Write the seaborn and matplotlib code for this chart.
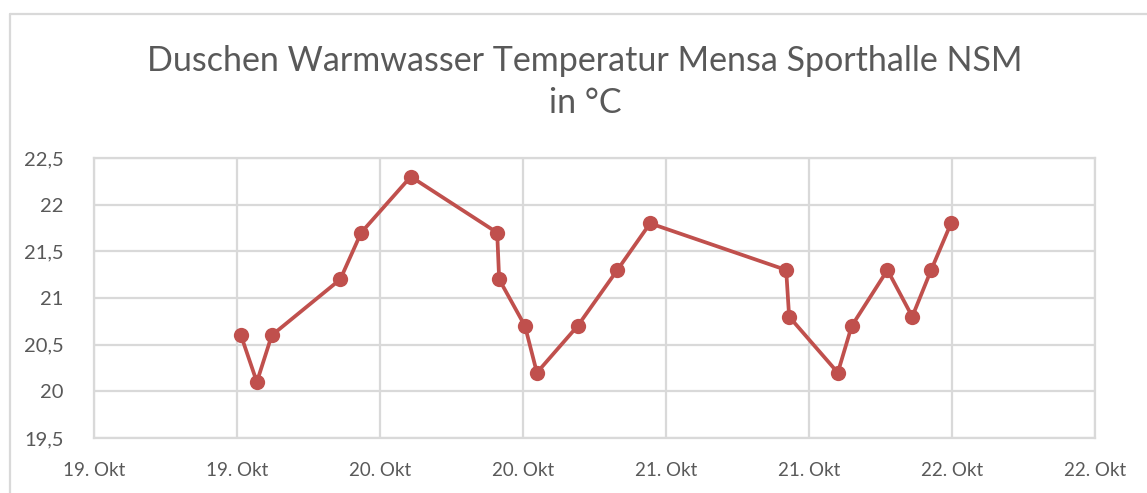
import matplotlib
matplotlib.use("Agg")
import matplotlib.pyplot as plt
import matplotlib.dates as mdates
from matplotlib.lines import Line2D
import pandas as pd
import seaborn as sns

# Measurement times and hot-water temperatures (°C)
times = [
    "2023-10-19 12:20", "2023-10-19 13:40", "2023-10-19 14:55", "2023-10-19 20:40",
    "2023-10-19 22:25", "2023-10-20 02:35", "2023-10-20 09:50", "2023-10-20 10:00",
    "2023-10-20 12:10", "2023-10-20 13:10", "2023-10-20 16:35", "2023-10-20 19:55",
    "2023-10-20 22:40", "2023-10-21 10:05", "2023-10-21 10:20", "2023-10-21 14:25",
    "2023-10-21 15:35", "2023-10-21 18:35", "2023-10-21 20:40", "2023-10-21 22:15",
    "2023-10-21 23:55",
]
temps = [20.6, 20.1, 20.6, 21.2, 21.7, 22.3, 21.7, 21.2, 20.7, 20.2, 20.7,
         21.3, 21.8, 21.3, 20.8, 20.2, 20.7, 21.3, 20.8, 21.3, 21.8]
y_ticks = [19.5, 20, 20.5, 21, 21.5, 22, 22.5]
title = "Duschen Warmwasser Temperatur Mensa Sporthalle NSM\nin °C"

df = pd.DataFrame({"Zeit": pd.to_datetime(times), "Temperatur": temps})

sns.set_theme(style="white")
plt.rcParams["font.family"] = ["Lato", "DejaVu Sans"]

TEXT = "#595959"
GRID = "#D9D9D9"
RED = "#C0504D"

fig = plt.figure(figsize=(11.47, 4.93), dpi=100)
ax = fig.add_axes([94 / 1147, 1 - 438 / 493, (1095 - 94) / 1147, (438 - 158) / 493])

sns.lineplot(data=df, x="Zeit", y="Temperatur", ax=ax, color=RED, linewidth=2.7,
             marker="o", markersize=11, markeredgewidth=0, sort=False, zorder=3)

ax.set_xlim(pd.Timestamp("2023-10-19 00:00"), pd.Timestamp("2023-10-22 12:00"))
ax.set_ylim(19.5, 22.5)
ax.set_yticks(y_ticks)
ax.set_yticklabels([f"{v:g}".replace(".", ",") for v in y_ticks])

ax.xaxis.set_major_locator(mdates.HourLocator(byhour=[0, 12]))
ax.xaxis.set_major_formatter(
    matplotlib.ticker.FuncFormatter(lambda v, _: f"{mdates.num2date(v).day}. Okt"))

ax.grid(True, color=GRID, linewidth=1.6)
ax.set_axisbelow(True)
for side, sp in ax.spines.items():
    sp.set_visible(True)
    sp.set_color(GRID)
    sp.set_linewidth(1.6)
ax.tick_params(axis="both", length=0, labelcolor=TEXT)
ax.tick_params(axis="x", labelsize=13.5, pad=17)
ax.tick_params(axis="y", labelsize=14.5, pad=22)
ax.set_xlabel("")
ax.set_ylabel("")

fig.text(585 / 1147, 1 - 82 / 493, title, ha="center", va="center",
         fontsize=24.5, color=TEXT, linespacing=1.38)

# chart frame
fig.add_artist(Line2D([9.5 / 1147, 1.0], [1 - 13.5 / 493] * 2, color=GRID,
                      linewidth=1.6, transform=fig.transFigure))
fig.add_artist(Line2D([9.5 / 1147] * 2, [0, 1 - 13.5 / 493], color=GRID,
                      linewidth=1.6, transform=fig.transFigure))

fig.savefig("out.png", dpi=100, facecolor="white")
